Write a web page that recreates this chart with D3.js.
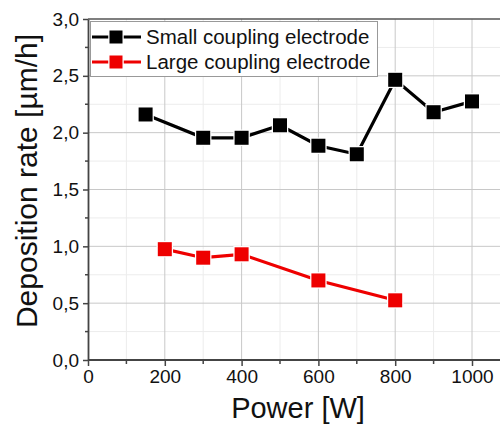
<!DOCTYPE html>
<html>
<head>
<meta charset="utf-8">
<script src="https://cdn.jsdelivr.net/npm/d3@7"></script>
<style>
  body { margin: 0; background: #fff; }
  svg { display: block; font-family: "Liberation Sans", Arial, sans-serif; }
</style>
</head>
<body>
<div id="chart"></div>
<script>
// data
const smallPower = [150, 300, 400, 500, 600, 700, 800, 900, 1000];
const smallRate = [2.16, 1.955, 1.955, 2.065, 1.885, 1.81, 2.465, 2.18, 2.275];
const largePower = [200, 300, 400, 600, 800];
const largeRate = [0.975, 0.90, 0.93, 0.70, 0.525];
const xTicks = [0, 200, 400, 600, 800, 1000];
const yTicks = [0, 0.5, 1.0, 1.5, 2.0, 2.5, 3.0];
const seriesNames = ["Small coupling electrode", "Large coupling electrode"];
const seriesColors = ["#000000", "#ee0000"];

const W = 500, H = 424;
const margin = {top: 19, right: 0, bottom: 64, left: 88};

const svg = d3.select("#chart").append("svg")
  .attr("width", W).attr("height", H);

const x = d3.scaleLinear().domain([0, 1000]).range([margin.left, 472]);
const y = d3.scaleLinear().domain([0, 3]).range([H - margin.bottom, margin.top]);

const x0 = margin.left, x1 = W, y0 = y(0), y1 = y(3);

// minor grid
const xMinor = d3.range(100, 1001, 200);
const yMinor = d3.range(0.25, 3, 0.5);
svg.append("g").selectAll("line").data(xMinor).enter().append("line")
  .attr("x1", d => x(d)).attr("x2", d => x(d)).attr("y1", y0).attr("y2", y1)
  .attr("stroke", "#ececec").attr("stroke-width", 1);
svg.append("g").selectAll("line").data(yMinor).enter().append("line")
  .attr("x1", x0).attr("x2", x1).attr("y1", d => y(d)).attr("y2", d => y(d))
  .attr("stroke", "#ececec").attr("stroke-width", 1);

// major grid
svg.append("g").selectAll("line").data(xTicks.slice(1)).enter().append("line")
  .attr("x1", d => x(d)).attr("x2", d => x(d)).attr("y1", y0).attr("y2", y1)
  .attr("stroke", "#c8c8c8").attr("stroke-width", 1);
svg.append("g").selectAll("line").data(yTicks.slice(1, -1)).enter().append("line")
  .attr("x1", x0).attr("x2", x1).attr("y1", d => y(d)).attr("y2", d => y(d))
  .attr("stroke", "#c8c8c8").attr("stroke-width", 1);

// top border
svg.append("line").attr("x1", x0).attr("x2", x1).attr("y1", y1).attr("y2", y1)
  .attr("stroke", "#555").attr("stroke-width", 1.5);

// x axis
const fmt = d => d3.format(".1f")(d).replace(".", ",");
const gx = svg.append("g").attr("transform", `translate(0,${y0})`)
  .call(d3.axisBottom(x).tickValues(xTicks).tickFormat(d3.format("d"))
    .tickSize(6).tickSizeOuter(0).tickPadding(4));
gx.select(".domain").remove();
gx.append("line").attr("x1", x0).attr("x2", x1).attr("stroke", "#444").attr("stroke-width", 1.8);
gx.selectAll(".tick line").attr("stroke", "#444").attr("stroke-width", 1.5);
gx.selectAll(".tick text").attr("fill", "#111").style("font-size", "19px");
gx.selectAll(".minor").data(xMinor).enter().append("line")
  .attr("x1", d => x(d)).attr("x2", d => x(d)).attr("y1", 0).attr("y2", 4)
  .attr("stroke", "#444").attr("stroke-width", 1.5);

// y axis
const gy = svg.append("g").attr("transform", `translate(${x0},0)`)
  .call(d3.axisLeft(y).tickValues(yTicks).tickFormat(fmt).tickSize(5).tickSizeOuter(0).tickPadding(4));
gy.select(".domain").attr("stroke", "#444").attr("stroke-width", 1.8);
gy.selectAll(".tick line").attr("stroke", "#444").attr("stroke-width", 1.5);
gy.selectAll(".tick text").attr("fill", "#111").style("font-size", "19px");
gy.selectAll(".minor").data(yMinor).enter().append("line")
  .attr("y1", d => y(d)).attr("y2", d => y(d)).attr("x1", 0).attr("x2", -3)
  .attr("stroke", "#444").attr("stroke-width", 1.5);

// axis titles
svg.append("text").attr("x", 298).attr("y", 418).attr("text-anchor", "middle")
  .style("font-size", "29px").attr("fill", "#111").text("Power [W]");
svg.append("text").attr("transform", "translate(37,181) rotate(-90)")
  .attr("text-anchor", "middle").style("font-size", "30px").attr("fill", "#111")
  .text("Deposition rate [µm/h]");

// series
const series = [
  {xs: smallPower, ys: smallRate, color: seriesColors[0]},
  {xs: largePower, ys: largeRate, color: seriesColors[1]}
];
const line = d3.line().x(d => x(d[0])).y(d => y(d[1]));
const ms = 14;
series.forEach(s => {
  const pts = s.xs.map((v, i) => [v, s.ys[i]]);
  svg.append("path").datum(pts).attr("d", line)
    .attr("fill", "none").attr("stroke", s.color).attr("stroke-width", 3.2);
  svg.append("g").selectAll("rect").data(pts).enter().append("rect")
    .attr("x", d => x(d[0]) - ms / 2).attr("y", d => y(d[1]) - ms / 2)
    .attr("width", ms).attr("height", ms)
    .attr("fill", s.color).attr("stroke", "#fff").attr("stroke-width", 2.5)
    .attr("paint-order", "stroke");
});

// legend
const lg = svg.append("g");
lg.append("rect").attr("x", 90.5).attr("y", 21.5).attr("width", 287).attr("height", 55)
  .attr("fill", "#fff").attr("stroke", "#999").attr("stroke-width", 1);
seriesNames.forEach((name, i) => {
  const cy = 37 + i * 25;
  lg.append("line").attr("x1", 92).attr("x2", 141).attr("y1", cy).attr("y2", cy)
    .attr("stroke", seriesColors[i]).attr("stroke-width", 3);
  lg.append("rect").attr("x", 116 - 6.5).attr("y", cy - 6.5).attr("width", 13).attr("height", 13)
    .attr("fill", seriesColors[i]).attr("stroke", "#fff").attr("stroke-width", 2.5)
    .attr("paint-order", "stroke");
  lg.append("text").attr("x", 146).attr("y", cy + 7).style("font-size", "20.5px")
    .attr("fill", "#111").text(name);
});
</script>
</body>
</html>
